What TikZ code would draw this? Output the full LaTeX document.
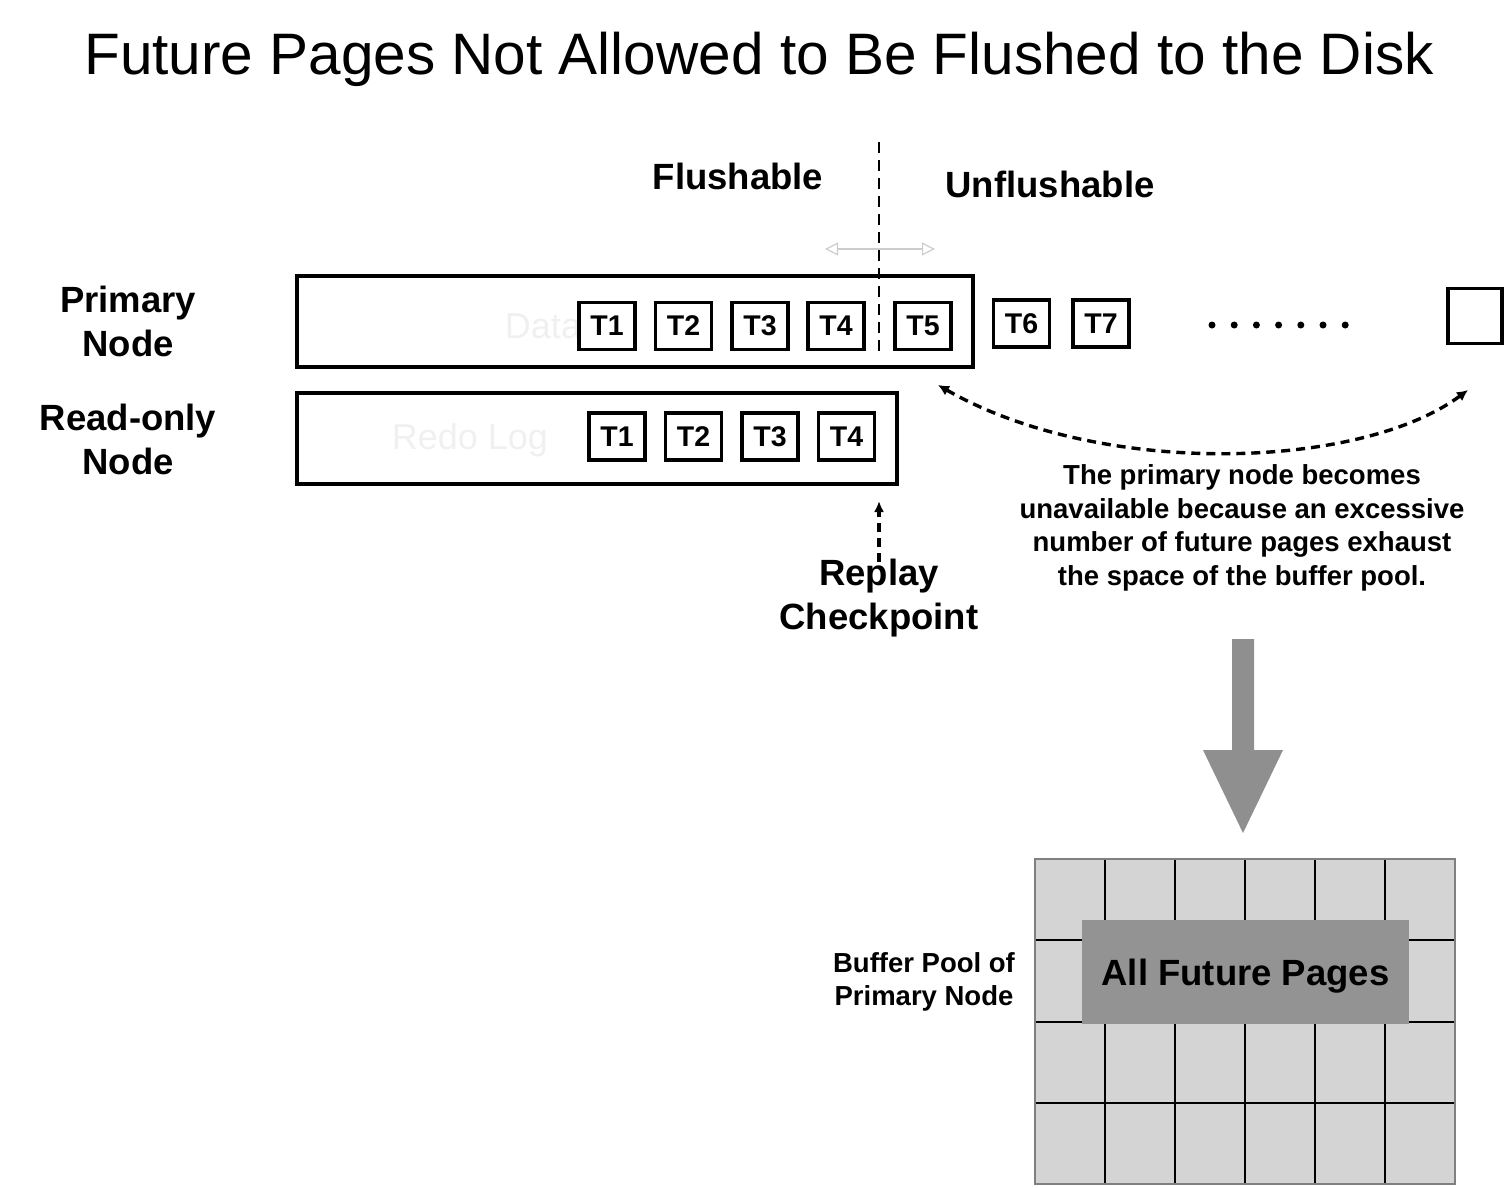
\documentclass[tikz,border=0pt]{standalone}
\usepackage{fontspec}
\setmainfont{Liberation Sans}
\usetikzlibrary{arrows.meta}
\definecolor{cellgray}{HTML}{D4D4D4}
\definecolor{darkgray2}{HTML}{939393}
\definecolor{arrowgray}{HTML}{8F8F8F}
\definecolor{ghost}{HTML}{F0F0F0}
\begin{document}
\begin{tikzpicture}[x=1pt,y=-1pt,
  big/.style={font=\fontsize{36.5pt}{44pt}\selectfont\bfseries, align=center, inner sep=0pt},
  small/.style={font=\fontsize{27.5pt}{33.5pt}\selectfont\bfseries, align=center, inner sep=0pt},
  tbox/.style={draw, line width=3.2pt, fill=white, minimum width=56pt, minimum height=47pt, inner sep=0pt, font=\fontsize{28.5pt}{30pt}\selectfont\bfseries},
  lane/.style={draw, line width=3.4pt, inner sep=0pt},
  ghosttext/.style={text=ghost, font=\fontsize{36pt}{40pt}\selectfont, inner sep=0pt},
  dashedarrow/.style={line width=3.2pt, dash pattern=on 9pt off 6pt, -{Latex[length=11pt,width=10pt]}},
]
\useasboundingbox (0,0) rectangle (1504,1187);

% title
\node[inner sep=0pt, font=\fontsize{58.5pt}{64pt}\selectfont] (title) at (759,59) {Future Pages Not Allowed to Be Flushed to the Disk};

% side labels
\node[big] (primlbl) at (128,321) {Primary\\Node};
\node[big] (rolbl) at (128,439) {Read-only\\Node};
\node[big] (flush) at (738,176) {Flushable};
\node[big] (unflush) at (1050,184) {Unflushable};

% lanes
\node[lane, minimum width=676pt, minimum height=91pt] (datalane) at (635,321.5) {};
\node[lane, minimum width=600pt, minimum height=91pt] (redolane) at (597,438.5) {};
\node[ghosttext] (datatxt) at (543,326) {Data};
\node[ghosttext] (redotxt) at (470,440) {Redo Log};

% primary T boxes
\node[tbox] (p1) at (607,326) {T1};
\node[tbox] (p2) at (683.5,326) {T2};
\node[tbox] (p3) at (760,326) {T3};
\node[tbox] (p4) at (836,326) {T4};
\node[tbox] (p5) at (923,326) {T5};
\node[tbox] (p6) at (1021.5,323.5) {T6};
\node[tbox] (p7) at (1101,323.5) {T7};
\node[tbox, minimum width=54pt, minimum height=55pt] (pend) at (1475,316) {};

% dots
\foreach \i in {0,...,6} {
  \fill (1212+22.2*\i,325) circle (3.5pt);
}

% redo T boxes
\node[tbox] (r1) at (617,436.5) {T1};
\node[tbox] (r2) at (693.5,436.5) {T2};
\node[tbox] (r3) at (770,436.5) {T3};
\node[tbox] (r4) at (846.5,436.5) {T4};

% boundary dashed line
\coordinate (vtop) at (879,142);
\coordinate (vbot) at (879,352);
\draw[line width=2pt, dash pattern=on 11pt off 7pt] (vtop) -- (vbot);

% light double arrow
\coordinate (la) at (825,249);
\coordinate (lb) at (935,249);
\draw[draw=black!20, line width=1.2pt, {Triangle[open,length=13pt,width=13pt]}-{Triangle[open,length=13pt,width=13pt]}] (la) -- (lb);

% curved dashed double arrow
\coordinate (ca) at (938,385);
\coordinate (cb) at (1468,390);
\draw[line width=3.4pt, dash pattern=on 9pt off 6pt, {Latex[length=11pt,width=11pt]}-{Latex[length=11pt,width=11pt]}]
  (ca) .. controls (1100,478) and (1360,470) .. (cb);

% replay checkpoint
\node[big] (replay) at (879,598) {Replay\\Checkpoint};
\coordinate (rp) at (879,562);
\coordinate (rq) at (879,501);
\draw[dashedarrow] (rp) -- (rq);

% explanation text
\node[small] (expl) at (1242,528) {The primary node becomes\\unavailable because an excessive\\number of future pages exhaust\\the space of the buffer pool.};

% big arrow
\fill[arrowgray] (1232,639) -- (1254,639) -- (1254,750) -- (1283,750) -- (1243,833) -- (1203,750) -- (1232,750) -- cycle;

% buffer pool grid
\fill[cellgray] (1035,859) rectangle (1455,1184);
\foreach \x in {1105,1175,1245,1315,1385} {
  \draw[line width=2pt] (\x,859) -- (\x,1184);
}
\foreach \y in {940,1022,1103} {
  \draw[line width=2pt] (1035,\y) -- (1455,\y);
}
\draw[draw=black!50, line width=2.2pt] (1035,859) rectangle (1455,1184);
\node[fill=darkgray2, minimum width=327pt, minimum height=104pt, inner sep=0pt] (futurebox) at (1245.5,972) {};
\node[inner sep=0pt, font=\fontsize{36.5pt}{40pt}\selectfont\bfseries] (future) at (1245.5,976) {All Future Pages};

\node[small] (bplbl) at (924,982) {Buffer Pool of\\Primary Node};
\end{tikzpicture}
\end{document}
